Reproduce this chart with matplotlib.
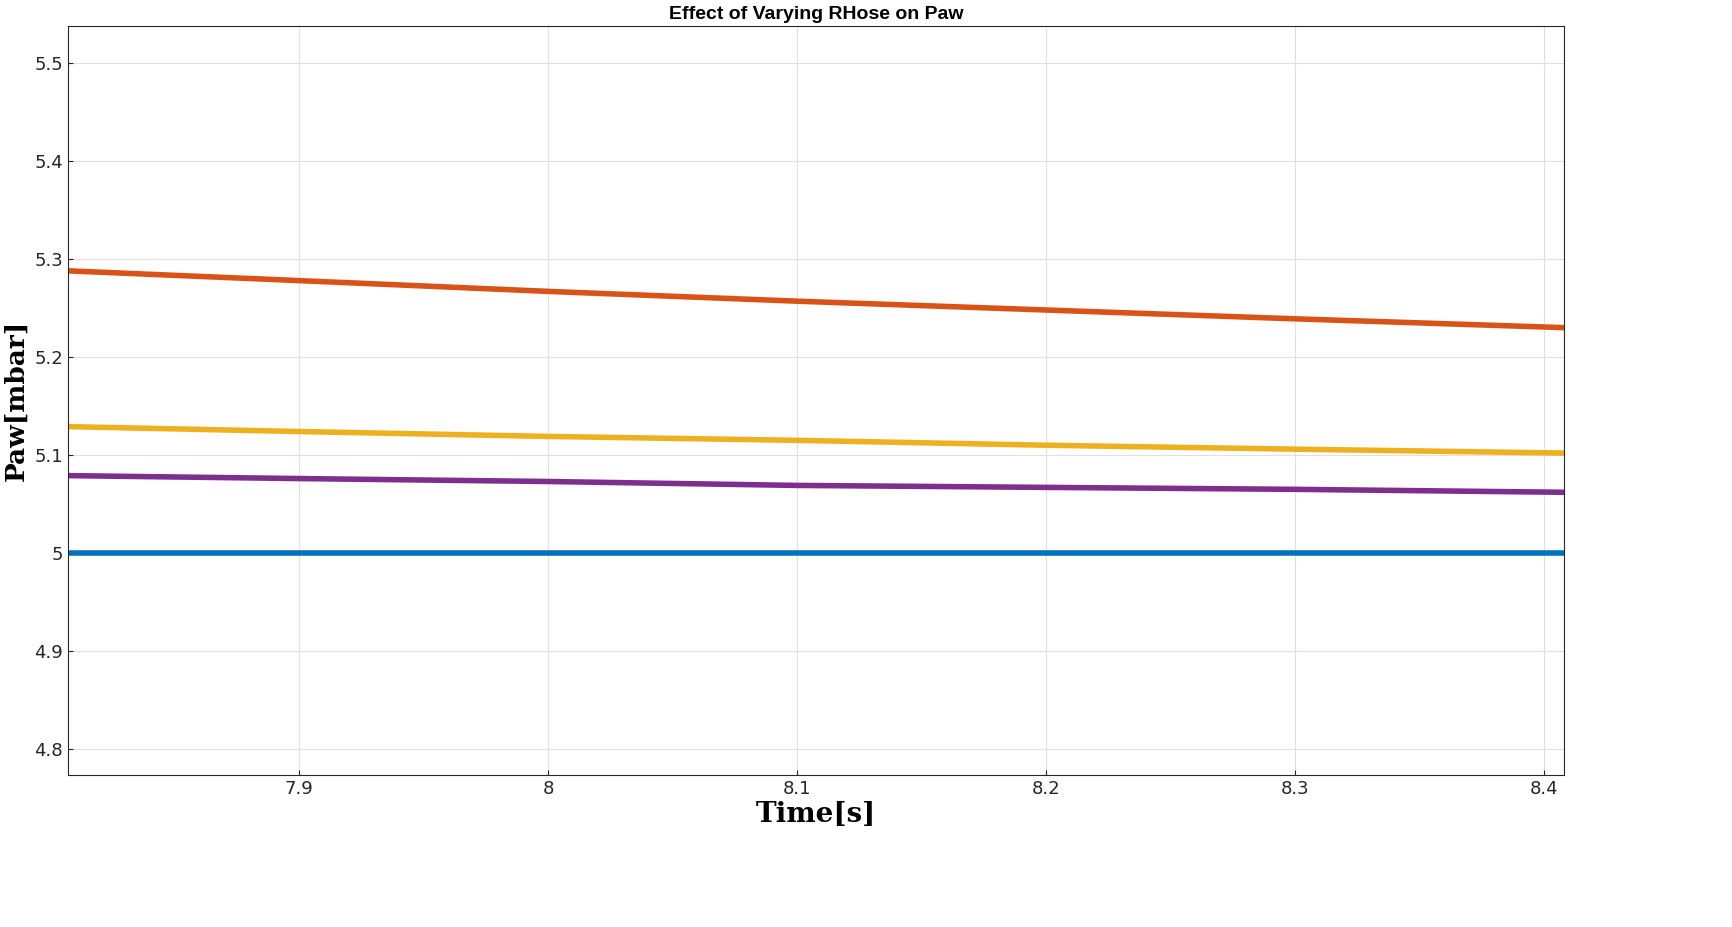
import matplotlib
matplotlib.use("Agg")
import matplotlib.pyplot as plt

t = [7.807, 7.9, 8.0, 8.1, 8.2, 8.3, 8.408]
paw_blue = [5.0, 5.0, 5.0, 5.0, 5.0, 5.0, 5.0]
paw_orange = [5.288, 5.278, 5.267, 5.257, 5.248, 5.239, 5.230]
paw_yellow = [5.129, 5.124, 5.119, 5.115, 5.110, 5.106, 5.102]
paw_purple = [5.079, 5.076, 5.073, 5.069, 5.067, 5.065, 5.062]

fig = plt.figure(figsize=(17.32, 9.27), dpi=100)
ax = fig.add_axes([68/1732, 1-775/927, (1564-68)/1732, (775-26)/927])
ax.plot(t, paw_blue, color="#0072BD", lw=4)
ax.plot(t, paw_orange, color="#D95319", lw=4)
ax.plot(t, paw_yellow, color="#EDB120", lw=4)
ax.plot(t, paw_purple, color="#7E2F8E", lw=4)

ax.set_xlim(7.8072, 8.408)
ax.set_ylim(4.7735, 5.5378)
ax.set_xticks([7.9, 8.0, 8.1, 8.2, 8.3, 8.4])
ax.set_xticklabels(["7.9", "8", "8.1", "8.2", "8.3", "8.4"])
ax.set_yticks([4.8, 4.9, 5.0, 5.1, 5.2, 5.3, 5.4, 5.5])
ax.set_yticklabels(["4.8", "4.9", "5", "5.1", "5.2", "5.3", "5.4", "5.5"])
ax.tick_params(labelsize=13, direction="in", colors="#262626")
ax.grid(True, color="#e0e0e0", lw=0.8)
for s in ax.spines.values():
    s.set_color("#262626")
ax.set_title("Effect of Varying RHose on Paw", fontsize=14, fontweight="bold", pad=5, family="Liberation Sans")
ax.set_xlabel("Time[s]", fontsize=20, fontweight="bold", family="DejaVu Serif", labelpad=2)
ax.set_ylabel("Paw[mbar]", fontsize=19, fontweight="bold", family="DejaVu Serif")
ax.yaxis.set_label_coords(-40/1496, 0.5)
fig.savefig("out.png", dpi=100)
